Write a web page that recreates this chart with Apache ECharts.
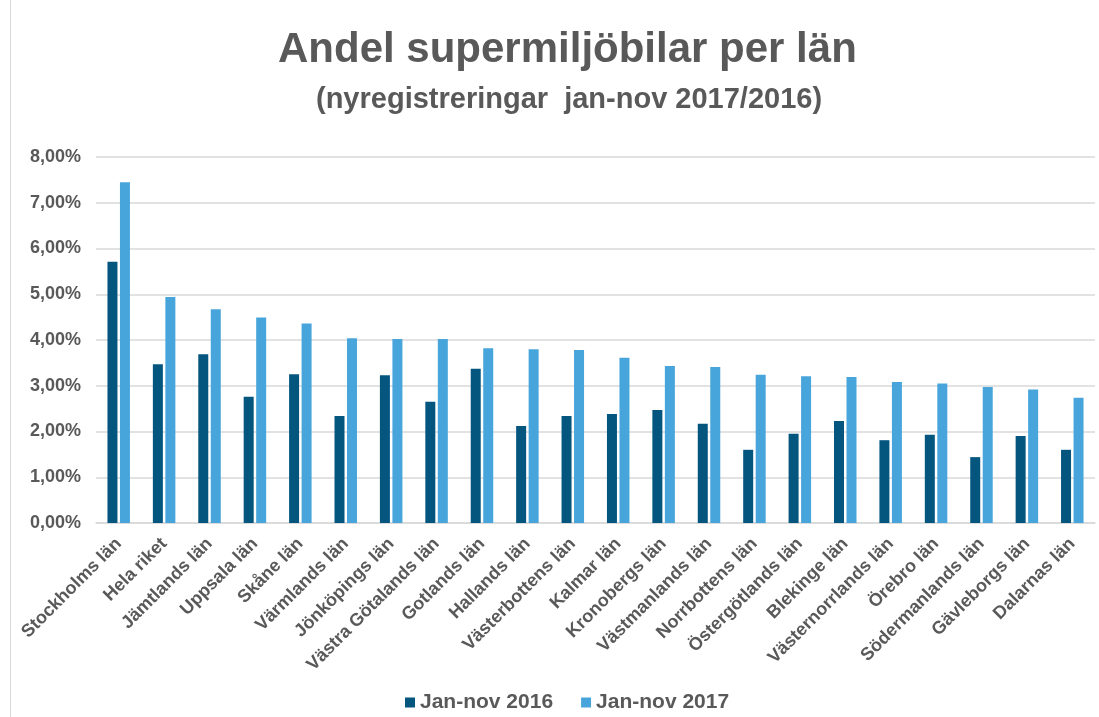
<!DOCTYPE html>
<html>
<head>
<meta charset="utf-8">
<script src="https://cdn.jsdelivr.net/npm/echarts@6/dist/echarts.min.js"></script>
<style>
html,body{margin:0;padding:0;background:#fff;}
#chart{width:1099px;height:717px;}
</style>
</head>
<body>
<div id="chart"></div>
<script>
const categories = ["Stockholms län","Hela riket","Jämtlands län","Uppsala län","Skåne län","Värmlands län","Jönköpings län","Västra Götalands län","Gotlands län","Hallands län","Västerbottens län","Kalmar län","Kronobergs län","Västmanlands län","Norrbottens län","Östergötlands län","Blekinge län","Västernorrlands län","Örebro län","Södermanlands län","Gävleborgs län","Dalarnas län"];
const values2016 = [5.71,3.47,3.69,2.76,3.25,2.34,3.23,2.65,3.37,2.12,2.34,2.38,2.47,2.17,1.60,1.95,2.23,1.81,1.93,1.44,1.90,1.60];
const values2017 = [7.45,4.94,4.67,4.49,4.36,4.04,4.02,4.02,3.82,3.80,3.78,3.61,3.43,3.41,3.24,3.21,3.19,3.08,3.05,2.97,2.92,2.74];
const seriesNames = ["Jan-nov 2016","Jan-nov 2017"];
const yTicks = {min:0, max:8, interval:1};

const font = "'Liberation Sans', Arial, sans-serif";
const grey = "#595959";
const chart = echarts.init(document.getElementById('chart'));
chart.setOption({
  animation:false,
  backgroundColor:'#fff',
  textStyle:{fontFamily:font},
  title:[
    {text:'Andel supermiljöbilar per län', left:273, top:24,
     textStyle:{fontFamily:font,fontSize:42,fontWeight:'bold',color:grey}},
    {text:'(nyregistreringar  jan-nov 2017/2016)', left:311, top:80,
     textStyle:{fontFamily:font,fontSize:29,fontWeight:'bold',color:grey}}
  ],
  legend:{
    left:400, top:687, itemWidth:10, itemHeight:10, itemGap:28, icon:'rect',
    data:seriesNames,
    textStyle:{fontFamily:font,fontSize:21,fontWeight:'bold',color:grey}
  },
  grid:{left:96, right:4, top:157, bottom:194, containLabel:false},
  xAxis:{
    type:'category', data:categories,
    axisTick:{show:false},
    axisLine:{lineStyle:{color:'#d9d9d9',width:1.5}},
    axisLabel:{interval:0, rotate:45, margin:18, fontFamily:font, fontSize:18, fontWeight:'bold', color:grey}
  },
  yAxis:{
    type:'value', min:yTicks.min, max:yTicks.max, interval:yTicks.interval,
    axisLine:{show:false}, axisTick:{show:false},
    splitLine:{lineStyle:{color:'#d9d9d9',width:1.5}},
    axisLabel:{margin:15, fontFamily:font, fontSize:18, fontWeight:'bold', color:grey,
      formatter:v=>v.toFixed(2).replace('.',',')+'%'}
  },
  series:[
    {name:seriesNames[0], type:'bar', data:values2016, barWidth:10, barGap:'25%',
     itemStyle:{color:'#04567F'}},
    {name:seriesNames[1], type:'bar', data:values2017, barWidth:10, barGap:'25%',
     itemStyle:{color:'#48A5DB'}}
  ],
  graphic:[
    {type:'line', shape:{x1:10.5,y1:0,x2:10.5,y2:717}, style:{stroke:'#d9d9d9',lineWidth:1}}
  ]
});
</script>
</body>
</html>
